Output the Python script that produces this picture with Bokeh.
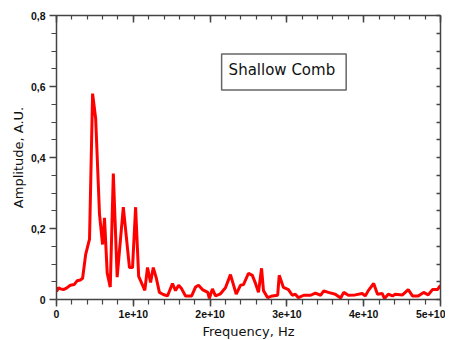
from bokeh.plotting import figure
from bokeh.models import (Range1d, LinearAxis, FixedTicker, CustomJSTickFormatter, Label)
from bokeh.embed import file_html
from bokeh.resources import INLINE

# Frequency (Hz) and amplitude (A.U.)
freq = [0.0, 0.26e9, 0.52e9, 0.9e9, 1.3e9, 1.8e9, 2.3e9, 2.7e9, 3.1e9, 3.4e9,
        3.8e9, 4.3e9, 4.7e9, 5.1e9, 5.6e9, 6.0e9, 6.25e9, 6.6e9, 7.0e9, 7.4e9,
        7.9e9, 8.7e9, 9.5e9, 9.9e9, 10.3e9, 10.7e9, 11.5e9, 11.85e9, 12.25e9, 12.6e9,
        13.0e9, 13.4e9, 13.9e9, 14.45e9, 15.1e9, 15.5e9, 15.9e9, 16.3e9, 16.8e9, 17.6e9,
        18.1e9, 18.5e9, 19.0e9, 19.7e9, 19.9e9, 20.3e9, 20.7e9, 21.35e9, 22.0e9, 22.65e9,
        23.4e9, 23.95e9, 24.35e9, 25.0e9, 25.5e9, 25.9e9, 26.3e9, 26.7e9, 26.95e9, 27.5e9,
        28.1e9, 28.8e9, 29.0e9, 29.55e9, 30.2e9, 30.7e9, 31.1e9, 31.5e9, 32.2e9, 33.1e9,
        33.7e9, 34.4e9, 34.8e9, 35.4e9, 36.3e9, 37.0e9, 37.4e9, 38.0e9, 38.9e9, 39.8e9,
        40.2e9, 40.6e9, 41.3e9, 41.8e9, 42.4e9, 42.7e9, 43.2e9, 43.75e9, 44.1e9, 45.05e9,
        45.8e9, 46.35e9, 47.1e9, 47.8e9, 48.4e9, 48.95e9, 49.6e9, 50.0e9]
amp = [0.022, 0.033, 0.030, 0.028, 0.032, 0.040, 0.042, 0.053, 0.055, 0.060,
       0.127, 0.170, 0.580, 0.510, 0.240, 0.155, 0.230, 0.075, 0.035, 0.355,
       0.063, 0.260, 0.090, 0.090, 0.260, 0.065, 0.026, 0.090, 0.048, 0.090,
       0.060, 0.020, 0.014, 0.010, 0.045, 0.025, 0.040, 0.030, 0.010, 0.010,
       0.035, 0.040, 0.028, 0.020, 0.003, 0.030, 0.010, 0.016, 0.033, 0.070,
       0.015, 0.040, 0.042, 0.074, 0.068, 0.046, 0.020, 0.088, 0.025, 0.005,
       0.010, 0.012, 0.068, 0.034, 0.028, 0.012, 0.015, 0.005, 0.012, 0.012,
       0.018, 0.012, 0.024, 0.020, 0.015, 0.004, 0.020, 0.012, 0.013, 0.017,
       0.010, 0.025, 0.045, 0.015, 0.017, 0.003, 0.015, 0.010, 0.015, 0.013,
       0.028, 0.010, 0.010, 0.020, 0.013, 0.028, 0.028, 0.040]

x_major = [0, 1e10, 2e10, 3e10, 4e10, 5e10]
x_minor = [i * 2e9 for i in range(26)]
y_major = [0, 0.2, 0.4, 0.6, 0.8]
y_minor = [i * 0.05 for i in range(17)]

annotation = "Shallow Comb"
x_title = "Frequency, Hz"
y_title = "Amplitude, A.U."

AX = "#444444"

p = figure(frame_width=384, frame_height=284, output_backend="svg", toolbar_location=None,
           x_range=Range1d(0, 5e10), y_range=Range1d(0, 0.8),
           min_border_left=56, min_border_right=5, min_border_top=15, min_border_bottom=26)
p.grid.visible = False
p.outline_line_color = None
p.background_fill_color = "white"

p.line(freq, amp, line_color="#ff0000", line_width=3)

xfmt = CustomJSTickFormatter(code="return tick == 0 ? '0' : Math.round(tick/1e10) + 'e+10';")
yfmt = CustomJSTickFormatter(code="return tick == 0 ? '0' : tick.toFixed(1).replace('.', ',');")

xa = p.xaxis[0]
xa.ticker = FixedTicker(ticks=x_major, minor_ticks=x_minor)
xa.formatter = xfmt
ya = p.yaxis[0]
ya.ticker = FixedTicker(ticks=y_major, minor_ticks=y_minor)
ya.formatter = yfmt

for ax in (xa, ya):
    ax.axis_line_color = AX
    ax.axis_line_width = 1.5
    ax.major_tick_line_color = AX
    ax.minor_tick_line_color = AX
    ax.major_tick_line_width = 1.5
    ax.minor_tick_line_width = 1.2
    ax.major_tick_in = 0
    ax.major_tick_out = 7
    ax.minor_tick_in = 0
    ax.minor_tick_out = 5
    ax.major_label_text_font = "Liberation Sans"
    ax.major_label_text_font_style = "bold"
    ax.major_label_text_font_size = "10.5px"
    ax.major_label_text_color = "#111111"
    ax.axis_label_text_font = "DejaVu Sans"
    ax.axis_label_text_font_style = "normal"
    ax.axis_label_text_font_size = "13px"
    ax.axis_label_text_color = "#111111"

xa.axis_label = x_title
xa.major_label_standoff = 3
xa.axis_label_standoff = 3
ya.axis_label = y_title
ya.major_label_standoff = 4
ya.axis_label_standoff = 2

top = LinearAxis(ticker=FixedTicker(ticks=x_major, minor_ticks=x_minor),
                 major_label_text_font_size="0px", major_label_standoff=0,
                 formatter=CustomJSTickFormatter(code="return '';"))
right = LinearAxis(ticker=FixedTicker(ticks=y_minor, minor_ticks=[]),
                   major_label_text_font_size="0px", major_label_standoff=0,
                   formatter=CustomJSTickFormatter(code="return '';"))
for ax, mj, mn in ((top, 7, 4), (right, 4, 0)):
    ax.axis_line_color = AX
    ax.axis_line_width = 1.5
    ax.major_tick_line_color = AX
    ax.minor_tick_line_color = AX
    ax.major_tick_line_width = 1.5
    ax.minor_tick_line_width = 1.2
    ax.major_tick_in = mj
    ax.major_tick_out = 0
    ax.minor_tick_in = mn
    ax.minor_tick_out = 0
p.add_layout(top, "above")
p.add_layout(right, "right")

lab = Label(x=21.5e9, y=0.59, text=annotation, text_font="DejaVu Sans",
            text_font_size="15px", text_color="#111111",
            border_line_color="#666666", border_line_width=1.5,
            background_fill_color="white", padding=(7, 11, 7, 11))
p.add_layout(lab)

open("out.html", "w").write(file_html(p, INLINE))
